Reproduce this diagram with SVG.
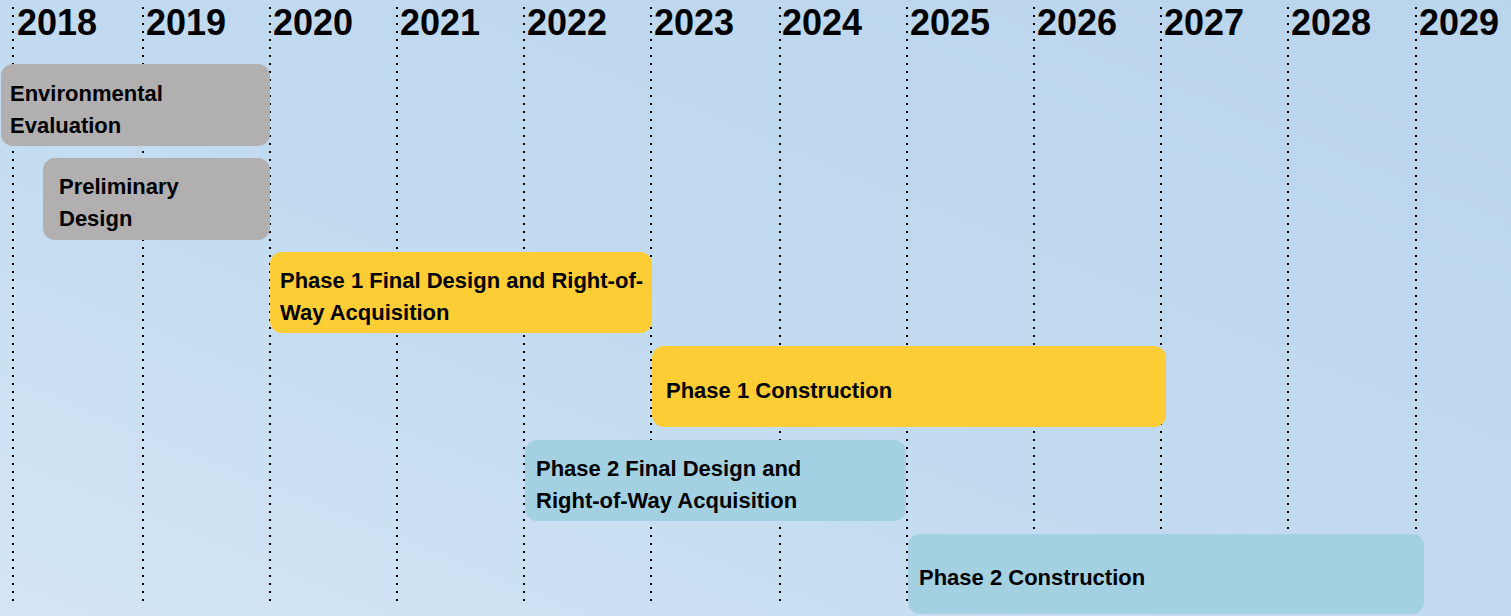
<svg xmlns="http://www.w3.org/2000/svg" width="1511" height="616" viewBox="0 0 1511 616">
<defs>
<linearGradient id="bg" x1="0" y1="1" x2="1" y2="0">
<stop offset="0" stop-color="#D3E5F4"/>
<stop offset="0.45" stop-color="#C2DBF0"/>
<stop offset="1" stop-color="#BAD4EC"/>
</linearGradient>
</defs>
<style>
.yr{font-family:"Liberation Sans",Arial,sans-serif;font-weight:bold;font-size:36px;fill:#000}
.grid line{stroke:#000;stroke-width:2;stroke-dasharray:2 6}
.lbl{font-family:"Liberation Sans",Arial,sans-serif;font-weight:bold;font-size:22px;fill:#000}
.gray{fill:#B1AFAF}
.yel{fill:#FDCD35}
.blu{fill:#A4D1E2}
</style>
<rect x="0" y="0" width="1511" height="616" fill="url(#bg)"/>
<g id="years">
<text class="yr" x="17" y="35">2018</text>
<text class="yr" x="146" y="35">2019</text>
<text class="yr" x="273" y="35">2020</text>
<text class="yr" x="400" y="35">2021</text>
<text class="yr" x="527" y="35">2022</text>
<text class="yr" x="654" y="35">2023</text>
<text class="yr" x="782" y="35">2024</text>
<text class="yr" x="910" y="35">2025</text>
<text class="yr" x="1037" y="35">2026</text>
<text class="yr" x="1164" y="35">2027</text>
<text class="yr" x="1291" y="35">2028</text>
<text class="yr" x="1419" y="35">2029</text>
</g>
<g id="connectors" class="grid">
<line x1="13" y1="7" x2="13" y2="605"/>
<line x1="143" y1="7" x2="143" y2="605"/>
<line x1="270" y1="7" x2="270" y2="605"/>
<line x1="397" y1="7" x2="397" y2="605"/>
<line x1="524" y1="7" x2="524" y2="605"/>
<line x1="651" y1="7" x2="651" y2="605"/>
<line x1="780" y1="7" x2="780" y2="605"/>
<line x1="907" y1="7" x2="907" y2="605"/>
<line x1="1034" y1="7" x2="1034" y2="605"/>
<line x1="1161" y1="7" x2="1161" y2="605"/>
<line x1="1288" y1="7" x2="1288" y2="605"/>
<line x1="1416" y1="7" x2="1416" y2="605"/>
</g>
<g id="env-eval">
<rect class="gray" x="1" y="64" width="269" height="82" rx="12"/>
<text class="lbl" x="10" y="101">Environmental</text>
<text class="lbl" x="10" y="133">Evaluation</text>
</g>
<g id="prelim-design">
<rect class="gray" x="43" y="158" width="227" height="82" rx="12"/>
<text class="lbl" x="59" y="194">Preliminary</text>
<text class="lbl" x="59" y="226">Design</text>
</g>
<g id="p1-design">
<rect class="yel" x="270" y="252" width="382" height="81" rx="12"/>
<text class="lbl" x="280" y="288">Phase 1 Final Design and Right-of-</text>
<text class="lbl" x="280" y="320">Way Acquisition</text>
</g>
<g id="p1-construction">
<rect class="yel" x="652" y="346" width="514" height="81" rx="12"/>
<text class="lbl" x="666" y="398">Phase 1 Construction</text>
</g>
<g id="p2-design">
<rect class="blu" x="525" y="440" width="381" height="81" rx="12"/>
<text class="lbl" x="536" y="476">Phase 2 Final Design and</text>
<text class="lbl" x="536" y="508">Right-of-Way Acquisition</text>
</g>
<g id="p2-construction">
<rect class="blu" x="908" y="534" width="516" height="80" rx="12"/>
<text class="lbl" x="919" y="585">Phase 2 Construction</text>
</g>
</svg>
